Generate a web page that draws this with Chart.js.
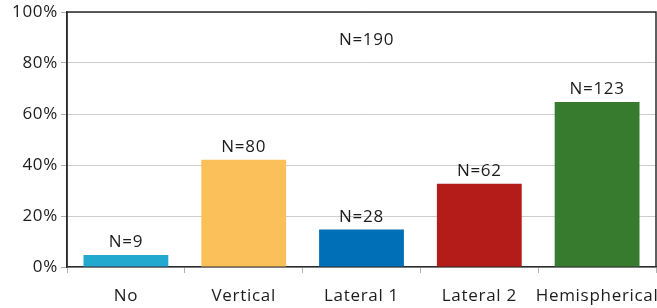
<!DOCTYPE html>
<html>
<head>
<meta charset="utf-8">
<script src="https://cdn.jsdelivr.net/npm/chart.js@4/dist/chart.umd.min.js"></script>
<style>
html,body{margin:0;padding:0;background:#fff;}
#wrap{width:657px;height:308px;position:relative;}
</style>
</head>
<body>
<div id="wrap"><canvas id="c" width="657" height="308"></canvas></div>
<script>
const categories = ["No", "Vertical", "Lateral 1", "Lateral 2", "Hemispherical"];
const counts = [9, 80, 28, 62, 123];
const total = 190;
const percentValues = [4.7, 42.1, 14.7, 32.6, 64.7];
const barColors = ["#22a9cf", "#fcc05a", "#006fb7", "#b41c1a", "#377b2e"];
const yTickValues = [0, 20, 40, 60, 80, 100];

const FONT = "'Open Sans', 'Noto Sans', sans-serif";
const TEXT = "#1e1b1c";
const SPACING = '0.7px';

const spacingPlugin = {
  id: 'spacing',
  beforeInit(chart) { chart.ctx.letterSpacing = SPACING; },
  beforeUpdate(chart) { chart.ctx.letterSpacing = SPACING; },
  beforeDraw(chart) { chart.ctx.letterSpacing = SPACING; }
};

const labelPlugin = {
  id: 'labels',
  afterDatasetsDraw(chart) {
    const ctx = chart.ctx;
    const meta = chart.getDatasetMeta(0);
    ctx.save();
    ctx.letterSpacing = SPACING;
    ctx.fillStyle = TEXT;
    ctx.font = "17px " + FONT;
    ctx.textAlign = 'center';
    ctx.textBaseline = 'bottom';
    meta.data.forEach((bar, i) => {
      ctx.fillText('N=' + counts[i], bar.x, bar.y - 4);
    });
    const a = chart.chartArea;
    ctx.textBaseline = 'middle';
    ctx.fillText('N=' + total, (a.left + a.right) / 2 + 5, chart.scales.y.getPixelForValue(88.8));
    // frame
    ctx.strokeStyle = '#2b2b2b';
    ctx.lineWidth = 1.5;
    ctx.beginPath();
    ctx.moveTo(a.left, a.bottom);
    ctx.lineTo(a.left, a.top);
    ctx.lineTo(a.right, a.top);
    ctx.lineTo(a.right, a.bottom);
    ctx.stroke();
    ctx.restore();
  }
};

new Chart(document.getElementById('c'), {
  type: 'bar',
  data: {
    labels: categories,
    datasets: [{
      data: percentValues,
      backgroundColor: barColors,
      borderWidth: 0,
      barPercentage: 0.72,
      categoryPercentage: 1.0
    }]
  },
  options: {
    responsive: false,
    animation: false,
    layout: { padding: { top: 12, right: 1, left: 0, bottom: 0 } },
    plugins: { legend: { display: false }, tooltip: { enabled: false } },
    scales: {
      x: {
        grid: { display: true, drawOnChartArea: false, offset: true, color: '#b0b0b0', tickLength: 6, lineWidth: 1 },
        border: { display: true, color: '#2b2b2b', width: 1.5 },
        ticks: { color: TEXT, font: { family: FONT, size: 17 }, padding: 13, maxRotation: 0, autoSkip: false },
        afterFit(s) { s.height = 41; s.paddingLeft = 0; s.paddingRight = 0; }
      },
      y: {
        min: 0, max: 100,
        afterBuildTicks(s) { s.ticks = yTickValues.map(v => ({ value: v })); },
        grid: { color: '#cccccc', tickColor: '#b0b0b0', tickLength: 6, lineWidth: 1 },
        border: { display: true, color: '#2b2b2b', width: 1.5 },
        ticks: { color: TEXT, font: { family: FONT, size: 17 }, padding: 3, callback: v => v + '%' },
        afterFit(s) { s.width = 67; s.paddingTop = 0; s.paddingBottom = 0; }
      }
    }
  },
  plugins: [spacingPlugin, labelPlugin]
});
</script>
</body>
</html>
